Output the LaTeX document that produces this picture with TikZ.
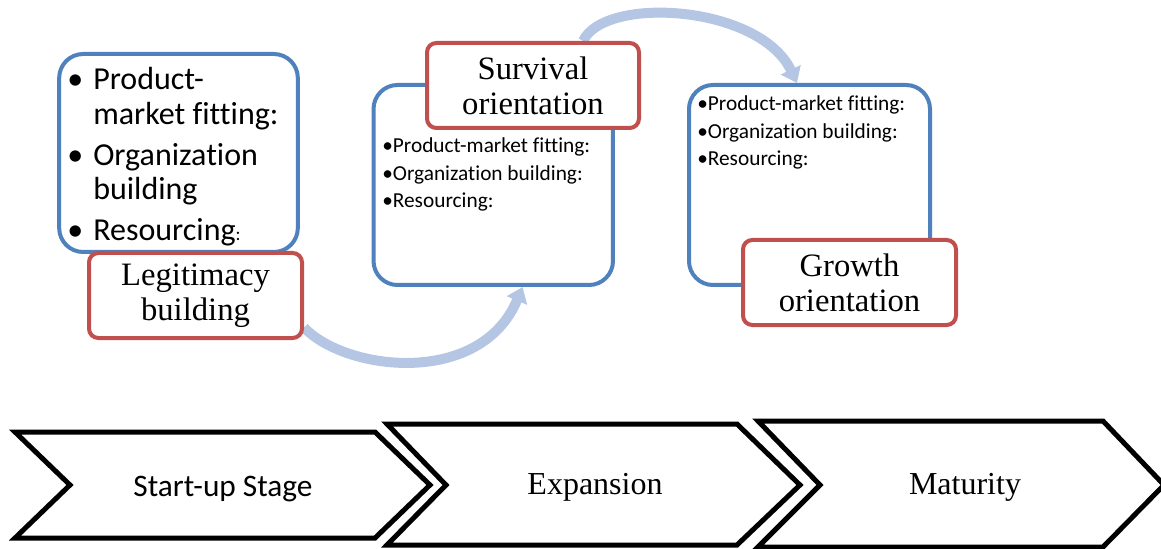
\documentclass[tikz,border=0pt]{standalone}
\usepackage{fontspec}
\setmainfont{Liberation Serif}
\newfontfamily\carlito[Ligatures=NoCommon]{Carlito}
\usepackage{xcolor}
\usetikzlibrary{arrows.meta}
\usetikzlibrary{backgrounds}
\definecolor{boxblue}{RGB}{79,129,189}
\definecolor{boxred}{RGB}{192,80,77}
\definecolor{flowblue}{RGB}{180,198,228}
\tikzset{
    listbox/.style={draw=boxblue,line width=3pt,rounded corners=18pt,fill=white},
    titlebox/.style={draw=boxred,line width=3pt,rounded corners=7pt,fill=white,align=center,inner sep=0pt,font=\fontsize{24.5}{26}\selectfont},
    listtext/.style={anchor=base west,inner sep=0pt},
    flow/.style={draw=flowblue,line width=7.5pt,-{Triangle[length=11pt,width=16pt]}},
    stagebox/.style={line width=3.75pt,fill=white},
    stagetext/.style={anchor=base,inner sep=0pt}
}

\begin{document}
\begin{tikzpicture}[x=0.75pt,y=-0.75pt]
                \useasboundingbox (0,0) rectangle (1161,549);
                \node[listbox,minimum width=179pt,minimum height=148.5pt] (startBox) at (178.5,153) {};
                \node[listtext,font=\carlito\fontsize{24}{26}\selectfont] (startList) at (67,90) {\begin{tabular}[t]{@{}p{19.5pt}@{}l@{}}
                    \textbullet & Product-\\
                                & market fitting:\\[4.5pt]
                    \textbullet & Organization\\
                                & building\\[4.5pt]
                    \textbullet & Resourcing{\fontsize{14}{14}\selectfont:}
                \end{tabular}};
                \node[titlebox,minimum width=159.75pt,minimum height=63.75pt] (leg) at (195.5,295.5) {Legitimacy\\building};
                \node[listbox,minimum width=179.6pt,minimum height=150pt] (expBox) at (493.25,185) {};
                \node[listtext,font=\carlito\fontsize{16}{20.5}\selectfont] (expList) at (382,153) {\begin{tabular}[t]{@{}l@{}}
                    \textbullet Product-market fitting:\\
                    \textbullet Organization building:\\
                    \textbullet Resourcing:
                \end{tabular}};
                \node[titlebox,minimum width=159pt,minimum height=63.75pt] (surv) at (533,85.5) {Survival\\orientation};
                \node[listbox,minimum width=180.75pt,minimum height=150pt] (matBox) at (809.5,185) {};
                \node[listtext,font=\carlito\fontsize{16}{20.5}\selectfont] (matList) at (697,111) {\begin{tabular}[t]{@{}l@{}}
                    \textbullet Product-market fitting:\\
                    \textbullet Organization building:\\
                    \textbullet Resourcing:
                \end{tabular}};
                \node[titlebox,minimum width=159.75pt,minimum height=63.75pt] (grow) at (849.5,282.5) {Growth\\orientation};
                \begin{scope}[on background layer]
                    \draw[flow] ([yshift=-24pt]leg.east) .. controls +(42,44) and +(-42,100) .. ([xshift=22pt]expBox.south);
                    \draw[flow] ([xshift=37.5pt]surv.north) .. controls +(22,-46) and +(-37,-78) .. ([xshift=-9.4pt]matBox.north);
                \end{scope}
                \draw[stagebox] (15,432) -- (375,432) -- (430,485) -- (375,538) -- (15,538) -- (70,485) -- cycle;
                \draw[stagebox] (387,424) -- (737,424) -- (800,485) -- (737,545) -- (387,545) -- (446,485) -- cycle;
                \draw[stagebox] (758,421) -- (1103,421) -- (1164,485) -- (1103,547) -- (758,547) -- (820,485) -- cycle;
                \node[stagetext,font=\carlito\fontsize{23.5}{26}\selectfont] (startup) at (223,496) {Start-up Stage};
                \node[stagetext,font=\fontsize{24}{26}\selectfont] (expansion) at (595,494) {Expansion};
                \node[stagetext,font=\fontsize{24}{26}\selectfont] (maturity) at (965,494) {Maturity};
            \end{tikzpicture}
\end{document}
